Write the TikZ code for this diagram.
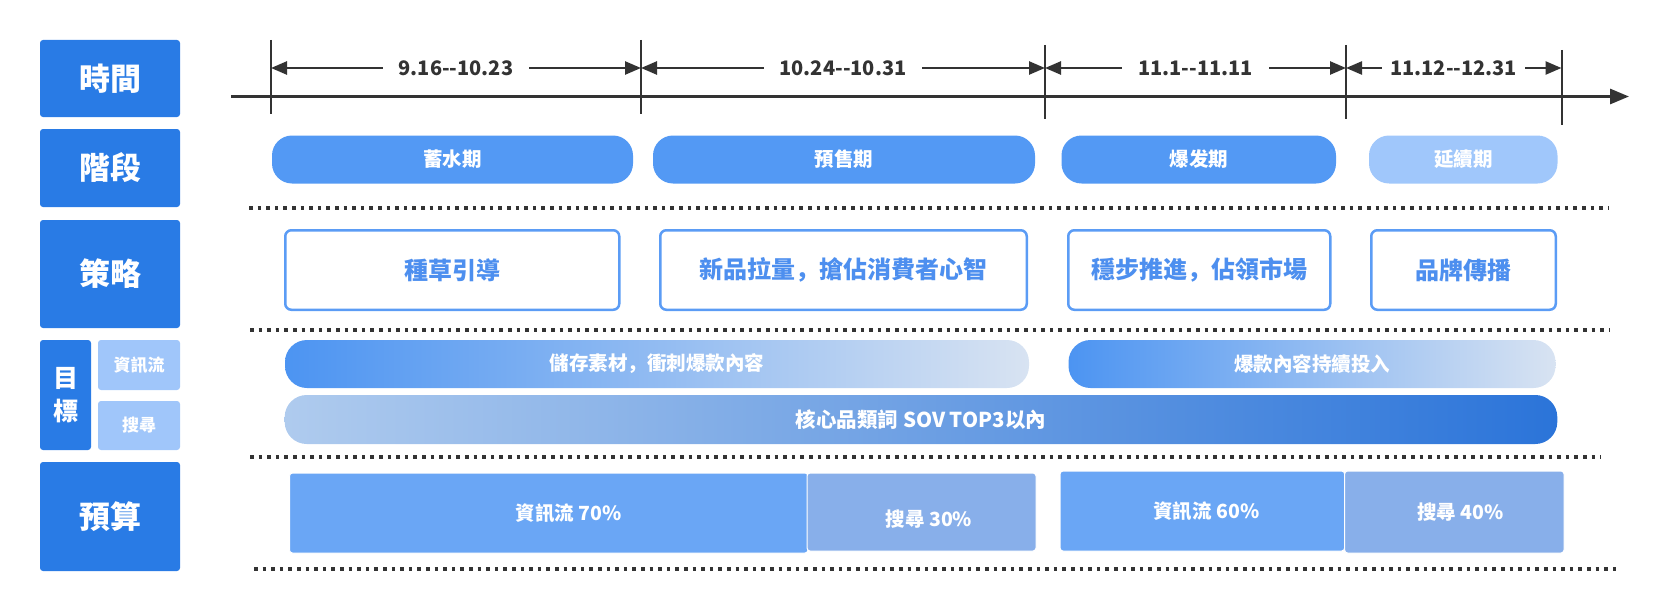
\documentclass[tikz,border=0pt]{standalone}
\usepackage{fontspec}
\setmainfont{Noto Sans CJK SC}
\usetikzlibrary{arrows.meta}
\definecolor{leftblue}{HTML}{297BE5}
\definecolor{subblue}{HTML}{A0C6FA}
\definecolor{phaseblue}{HTML}{5399F4}
\definecolor{phaselight}{HTML}{A0C7FB}
\definecolor{stratblue}{HTML}{5B9CF5}
\definecolor{strattext}{HTML}{4D8FEF}
\definecolor{gAleft}{HTML}{4C94F2}
\definecolor{gAright}{HTML}{D8E3F2}
\definecolor{gBleft}{HTML}{AFCBEE}
\definecolor{gBright}{HTML}{2B74D9}
\definecolor{budA}{HTML}{6AA6F5}
\definecolor{budB}{HTML}{88AFEA}
\definecolor{axisgray}{HTML}{333333}
\begin{document}
\begin{tikzpicture}[x=1pt,y=-1pt,
  leftbox/.style={fill=leftblue, rounded corners=3pt, text=white, inner sep=0pt,
    font=\bfseries\fontsize{31}{36}\selectfont},
  subbox/.style={fill=subblue, rounded corners=3pt, text=white, inner sep=0pt,
    font=\bfseries\fontsize{17}{20}\selectfont, minimum width=82pt},
  phase/.style={fill=phaseblue, rounded corners=20pt, text=white, inner sep=0pt,
    font=\bfseries\fontsize{19.5}{22}\selectfont, minimum height=48pt},
  strat/.style={draw=stratblue, line width=2.5pt, fill=white, rounded corners=6pt,
    text=strattext, inner sep=0pt, font=\bfseries\fontsize{24}{28}\selectfont,
    minimum height=79.5pt},
  goal/.style={rounded corners=22pt, text=white, inner sep=0pt,
    font=\bfseries\fontsize{19.5}{22}\selectfont, minimum height=48pt},
  budget/.style={rounded corners=3pt, text=white, inner sep=0pt, draw=white,
    line width=1pt, font=\bfseries\fontsize{19.5}{22}\selectfont},
  dots/.style={line width=4pt, dash pattern=on 3.6pt off 5pt, draw=axisgray},
  tickline/.style={line width=2pt, draw=axisgray},
  dim/.style={line width=2.5pt, draw=axisgray,
    {Triangle[length=16pt,width=13pt]}-{Triangle[length=16pt,width=13pt]}},
  timelabel/.style={fill=white, text=axisgray, inner xsep=16pt, inner ysep=2pt,
    font=\bfseries\fontsize{20}{24}\selectfont}
]
\useasboundingbox (0,0) rectangle (1663,610);

% left column
\node[leftbox, minimum width=140pt, minimum height=77pt] (time) at (110,78.5) {時間};
\node[leftbox, minimum width=140pt, minimum height=78pt] (stage) at (110,168) {階段};
\node[leftbox, minimum width=140pt, minimum height=108pt] (strategy) at (110,274) {策略};
\node[leftbox, minimum width=51pt, minimum height=110pt, align=center,
  font=\bfseries\fontsize{25}{33}\selectfont] (goal) at (65.5,395) {目\\標};
\node[subbox, minimum height=50pt] (feed) at (139,365) {資訊流};
\node[subbox, minimum height=49pt] (search) at (139,425.5) {搜尋};
\node[leftbox, minimum width=140pt, minimum height=109pt] (budget) at (110,516.5) {預算};

% time axis
\coordinate (axs) at (231,96.5);
\coordinate (axe) at (1629,96.5);
\draw[line width=3pt, axisgray, -{Triangle[length=19pt,width=15pt]}] (axs) -- (axe);

\coordinate (t1a) at (271,40);   \coordinate (t1b) at (271,114);
\coordinate (t2a) at (641,40);   \coordinate (t2b) at (641,114);
\coordinate (t3a) at (1045,45);  \coordinate (t3b) at (1045,119);
\coordinate (t4a) at (1346,45);  \coordinate (t4b) at (1346,119);
\coordinate (t5a) at (1561.5,50); \coordinate (t5b) at (1561.5,125);
\foreach \i in {1,...,5} \draw[tickline] (t\i a) -- (t\i b);

\coordinate (m1) at (271,68);
\coordinate (m2) at (641,68);
\coordinate (m3) at (1045,68);
\coordinate (m4) at (1346,68);
\coordinate (m5) at (1561.5,68);
\draw[dim] (m1) -- node[timelabel] (l1) {9.16-{}-10.23} (m2);
\draw[dim] (m2) -- node[timelabel] (l2) {10.24-{}-10.31} (m3);
\draw[dim] (m3) -- node[timelabel] (l3) {11.1-{}-11.11} (m4);
\draw[dim] (m4) -- node[timelabel, inner xsep=8pt] (l4) {11.12-{}-12.31} (m5);

% phases
\node[phase, minimum width=361pt] (p1) at (452.5,159.5) {蓄水期};
\node[phase, minimum width=382pt] (p2) at (844,159.5) {預售期};
\node[phase, minimum width=274.5pt] (p3) at (1198.75,159.5) {爆发期};
\node[phase, fill=phaselight, minimum width=188.5pt] (p4) at (1463.25,159.5) {延續期};

% dotted separators
\coordinate (d1a) at (249,208);  \coordinate (d1b) at (1609,208);
\coordinate (d2a) at (250,330);  \coordinate (d2b) at (1610,330);
\coordinate (d3a) at (250,457);  \coordinate (d3b) at (1601,457);
\coordinate (d4a) at (254,569);  \coordinate (d4b) at (1617,569);
\foreach \i in {1,...,4} \draw[dots] (d\i a) -- (d\i b);

% strategy
\node[strat, minimum width=334pt] (s1) at (452.25,270) {種草引導};
\node[strat, minimum width=366.5pt] (s2) at (843.5,270) {新品拉量，搶佔消費者心智};
\node[strat, minimum width=262pt] (s3) at (1199.25,270) {穩步推進，佔領市場};
\node[strat, minimum width=184.5pt] (s4) at (1463.5,270) {品牌傳播};

% goals
\node[goal, left color=gAleft, right color=gAright, minimum width=744pt] (g1) at (657,364) {儲存素材，衝刺爆款內容};
\node[goal, left color=gAleft, right color=gAright, minimum width=487pt] (g2) at (1312,364) {爆款內容持續投入};
\node[goal, left color=gBleft, right color=gBright, minimum width=1272.6pt, minimum height=49pt,
  font=\bfseries\fontsize{20.5}{22}\selectfont] (g3) at (921,419.5) {核心品類詞 SOV TOP3以內};

% budget
\node[budget, fill=budA, minimum width=518.5pt, minimum height=80pt] (b1) at (548.75,513) {\hspace*{40pt}資訊流 70\%};
\node[budget, fill=budB, minimum width=229pt, minimum height=78pt] (b2) at (921.5,512) {\hspace*{15pt}\rule{0pt}{30pt}搜尋 30\%};
\node[budget, fill=budA, minimum width=284.6pt, minimum height=80pt] (b3) at (1202.3,511) {\hspace*{8pt}資訊流 60\%};
\node[budget, fill=budB, minimum width=219.4pt, minimum height=82pt] (b4) at (1454.3,512) {\hspace*{12pt}搜尋 40\%};
\end{tikzpicture}
\end{document}
